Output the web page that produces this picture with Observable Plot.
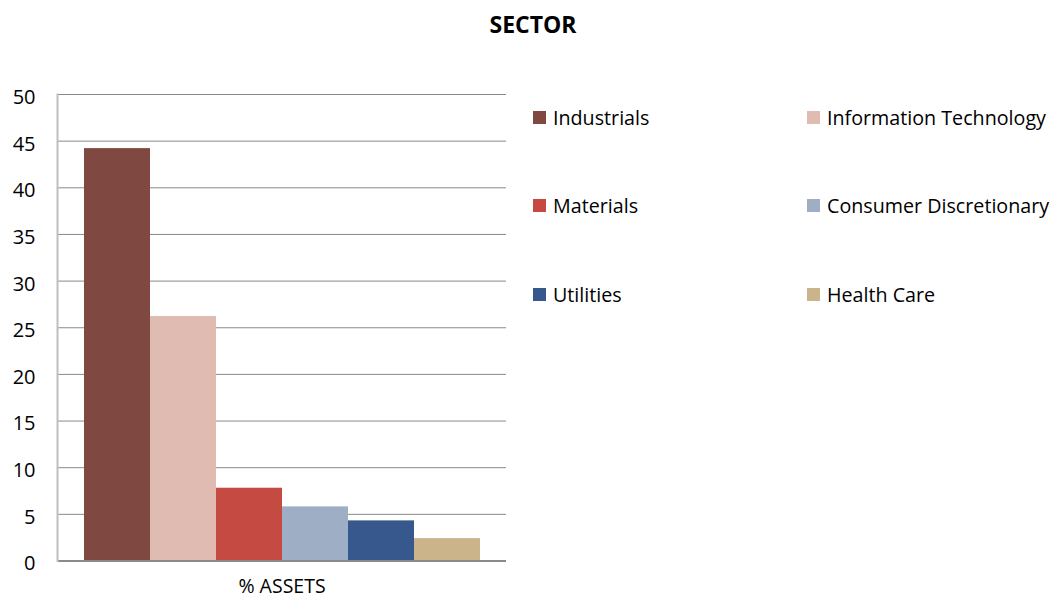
<!DOCTYPE html>
<html>
<head>
<meta charset="utf-8">
<script src="https://cdn.jsdelivr.net/npm/d3@7"></script>
<script src="https://cdn.jsdelivr.net/npm/@observablehq/plot@0.6"></script>
<style>
  body { margin: 0; background: #fff; font-family: "Open Sans", sans-serif; }
  #wrap { position: relative; width: 1057px; height: 599px; }
  #title { height: 40px; line-height: 48px; text-align: center; font-weight: bold; font-size: 23px; color: #000; padding-left: 9px; overflow: visible; }
  #legend { position: absolute; left: 533px; top: 105px; font-size: 19.7px; color: #000; }
  .item { position: absolute; white-space: nowrap; display: flex; align-items: center; height: 24px; }
  .sw { width: 13px; height: 13px; margin-right: 7px; }
  #chart svg { display: block; }
</style>
</head>
<body>
<div id="wrap">
  <div id="title">SECTOR</div>
  <div id="chart"></div>
  <div id="legend"></div>
</div>
<script>
const sectors = ["Industrials", "Information Technology", "Materials", "Consumer Discretionary", "Utilities", "Health Care"];
const values = [44.2, 26.2, 7.8, 5.8, 4.3, 2.4];
const colors = ["#7f4941", "#e0bbb2", "#c44a42", "#9daec5", "#36588c", "#cbb489"];
const yTicks = [0, 5, 10, 15, 20, 25, 30, 35, 40, 45, 50];
const categoryLabel = "% ASSETS";

const data = sectors.map((s, i) => ({sector: s, value: values[i]}));

const chart = Plot.plot({
  width: 1057,
  height: 559,
  marginLeft: 57,
  marginRight: 551,
  marginTop: 54,
  marginBottom: 38.5,
  style: {fontFamily: "Open Sans, sans-serif", fontSize: "20px", color: "#000", background: "#fff", overflow: "visible"},
  x: {domain: sectors, paddingInner: 0, paddingOuter: 0.375, axis: null},
  y: {domain: [0, 50], ticks: yTicks},
  color: {domain: sectors, range: colors},
  marks: [
    Plot.ruleY(yTicks.filter(d => d > 0), {stroke: "#8a8a8a", strokeWidth: 1}),
    Plot.barY(data, {x: "sector", y: "value", fill: "sector"}),
    Plot.ruleY([0], {stroke: "#8a8a8a", strokeWidth: 2}),
    Plot.frame({anchor: "left", stroke: "#bfbfbf", strokeWidth: 2}),
    Plot.axisY(yTicks, {tickSize: 0, tickPadding: 22, label: null, fontSize: 20, dy: 3}),
    Plot.text([categoryLabel], {frameAnchor: "bottom", dy: 31.5, fontSize: 19.5, fill: "#000"})
  ]
});
document.getElementById("chart").appendChild(chart);

// Legend (HTML), 2 columns x 3 rows
const legend = document.getElementById("legend");
sectors.forEach((s, i) => {
  const col = i % 2, row = Math.floor(i / 2);
  const item = document.createElement("div");
  item.className = "item";
  item.style.left = (col * 274) + "px";
  item.style.top = (row * 88.5) + "px";
  const sw = document.createElement("span");
  sw.className = "sw";
  sw.style.background = colors[i];
  const tx = document.createElement("span");
  tx.textContent = s;
  item.appendChild(sw);
  item.appendChild(tx);
  legend.appendChild(item);
});
</script>
</body>
</html>
